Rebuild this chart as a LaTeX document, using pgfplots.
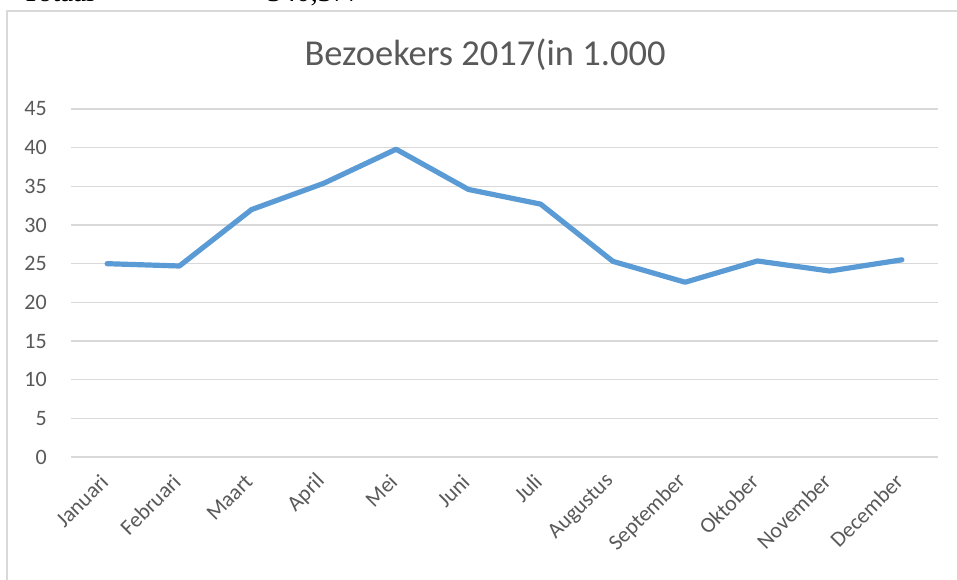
\documentclass[border=0pt]{standalone}
\usepackage{fontspec}
\setmainfont{Carlito}
\newfontfamily\timesfont{Liberation Serif}
\usepackage{pgfplots}
\pgfplotsset{compat=1.18}
\definecolor{txt}{HTML}{595959}
\definecolor{gridc}{HTML}{D9D9D9}
\definecolor{serie}{HTML}{5B9BD5}
\newcommand{\mylab}[1]{{\fontsize{22}{26}\selectfont #1}}
\begin{document}
\begin{tikzpicture}[x=1pt,y=1pt]
\useasboundingbox (0,0) rectangle (957,-579);
\clip (0,0) rectangle (957,-579);
\node[anchor=base west, inner sep=0, font=\timesfont\fontsize{29}{34}\selectfont] at (22,-1.5) {Totaal};
\node[anchor=base west, inner sep=0, font=\timesfont\fontsize{29}{34}\selectfont] at (267,-1.5) {340,377};
\draw[gridc, line width=1.5pt] (7,-11) rectangle (1000,-620);
\node[anchor=base, inner sep=0, font=\fontsize{36.5}{40}\selectfont, text=txt] at (485,-65) {Bezoekers 2017(in 1.000};
\begin{axis}[
  at={(71pt,-457pt)}, anchor=south west,
  scale only axis, width=867pt, height=348pt,
  xmin=-0.5, xmax=11.5, ymin=0, ymax=45,
  axis line style={draw=none},
  ytick={0,5,...,45},
  xtick={0,...,11},
  xticklabels={\mylab{Januari},\mylab{Februari},\mylab{Maart},\mylab{April},\mylab{Mei},\mylab{Juni},\mylab{Juli},\mylab{Augustus},\mylab{September},\mylab{Oktober},\mylab{November},\mylab{December}},
  yticklabel={\mylab{\pgfmathprintnumber{\tick}}},
  major tick length=0,
  ymajorgrids,
  grid style={gridc, line width=1.5pt},
  tick label style={text=txt},
  yticklabel style={anchor=east, inner sep=0, xshift=-24pt},
  xticklabel style={xshift=-2.5pt, yshift=-21pt, rotate=45, anchor=east, inner sep=0},
  /pgf/number format/assume math mode=true,
  clip=false]
\addplot[serie, line width=5.2pt, line join=round, line cap=round] coordinates {
(0,25.0) (1,24.7) (2,32.0) (3,35.4) (4,39.8) (5,34.6) (6,32.7) (7,25.3) (8,22.6) (9,25.35) (10,24.05) (11,25.5)};
\end{axis}
\end{tikzpicture}
\end{document}
